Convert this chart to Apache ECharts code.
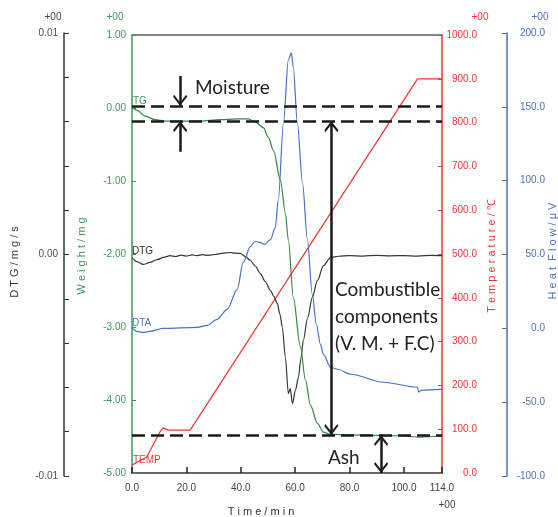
<!DOCTYPE html>
<html><head><meta charset="utf-8">
<script src="https://cdn.jsdelivr.net/npm/echarts@6/dist/echarts.min.js"></script>
<style>html,body{margin:0;padding:0;background:#fff}#c{width:558px;height:517px}</style>
</head><body><div id="c"></div>
<script>
// ---- data ----
const tgTime   = [0,1.8,4.8,8.5,12.2,25,32.4,38.7,42.8,45.3,48.3,50.1,52,54.6,56.4,57.5,59.3,61.9,63.8,65.6,68.2,70.4,73,84,98.8,106,114];
const tgWeight = [0.01,-0.03,-0.11,-0.16,-0.18,-0.18,-0.16,-0.15,-0.15,-0.19,-0.27,-0.40,-0.58,-0.99,-1.44,-1.81,-2.59,-3.27,-3.73,-4.07,-4.32,-4.44,-4.47,-4.48,-4.49,-4.51,-4.49];

const tempTime  = [0,5.5,10.3,11.4,13.3,21.4,105,114];
const tempValue = [18,37,94,103,98,98,900,900];

const dtgTime  = [0,1.8,4.1,6.6,9.2,12,14,16,18,20,22,24,26,28,30.6,33,36.1,38,39.8,41.7,43.5,45.3,47.2,49,50.9,52.2,53.4,54.4,55.3,56.4,57.5,58.2,59,60.1,61.2,62.1,63,64.6,66.3,68.2,70.4,73,76,80,85,90,95,100,105,110,114];
const dtgValueE3 = [-0.14,-0.32,-0.45,-0.36,-0.23,-0.12,-0.05,-0.09,-0.03,-0.07,-0.02,-0.05,-0.01,-0.04,0.0,0.05,0.09,0.06,0.05,-0.09,-0.27,-0.52,-0.86,-1.22,-1.63,-1.9,-2.21,-2.7,-3.30,-4.65,-6.28,-6.05,-6.73,-6.14,-5.55,-4.7,-3.88,-2.85,-1.94,-1.17,-0.50,-0.14,-0.08,-0.05,-0.07,-0.04,-0.06,-0.05,-0.07,-0.04,-0.05];

const dtaTime  = [0,1.8,4.1,6.6,11.4,24,27.6,31.3,35,38.7,40.9,43.5,45.3,47.2,48.7,50.9,52.7,53.8,55.7,57.5,58.6,59.3,60.8,62.7,64.5,66.3,67.8,69.3,70.4,73,75.6,80.4,92.5,105,105.4,106.5,114];
const dtaValue = [0.7,-2.0,-2.7,-2.0,0,0.7,2.0,6.1,12.8,26.4,44.6,55.4,58.8,58.1,56.8,60.1,68.2,87.2,139.2,181.8,186.5,177,139.2,98.6,60.1,23,2.7,-10.8,-17.6,-26.4,-27.7,-31.1,-36.5,-39.9,-43.2,-41.9,-41.2];

const refLevels = [0.03, -0.18, -4.48];   // dashed guide lines (weight, mg)

const zip = (a,b,k) => a.map((t,i)=>[t, b[i]*(k||1)]);

const NARROW = "'Liberation Sans Narrow','Liberation Sans',sans-serif";
const GREEN='#3a9a5c', RED='#ee3535', BLUE='#4a72c0', DARK='#2e3c2e';
const chevron = 'path://M0,0 L10,8 L8.6,9.8 L0,3 L-8.6,9.8 L-10,8 Z';

const chart = echarts.init(document.getElementById('c'), null, {renderer:'canvas'});
const arrowEnd = {symbol: chevron, symbolSize:[14,11], symbolOffset:[0,5.5]};
const LBL = 10;

chart.setOption({
  animation:false,
  grid:[
    {left:132, right:116, top:35, bottom:44},
    {left:132, right:116, top:33, bottom:41}
  ],
  xAxis:[
    {gridIndex:0, type:'value', min:0, max:114, interval:20, position:'bottom',
     axisLine:{onZero:false, lineStyle:{color:'#666', width:2}},
     axisTick:{inside:true, length:6, lineStyle:{color:'#222', width:1.5}},
     axisLabel:{formatter:v=>v.toFixed(1), color:'#444', fontSize:LBL, fontFamily:NARROW, margin:10},
     splitLine:{show:false}},
    {gridIndex:0, type:'value', min:0, max:114, position:'top',
     axisLine:{onZero:false, lineStyle:{color:'#888', width:2}}, axisTick:{show:false}, axisLabel:{show:false}, splitLine:{show:false}},
    {gridIndex:1, type:'value', min:0, max:114, show:false, axisLine:{onZero:false}}
  ],
  yAxis:[
    {gridIndex:0, type:'value', min:-5, max:1, interval:1, position:'left',
     axisLine:{show:true, onZero:false, lineStyle:{color:GREEN, width:1.5}},
     axisTick:{show:true, inside:true, length:4, lineStyle:{color:GREEN}},
     axisLabel:{formatter:v=>v.toFixed(2), color:GREEN, fontSize:LBL, fontFamily:NARROW, margin:6},
     splitLine:{show:false}},
    {gridIndex:0, type:'value', min:0, max:1000, interval:100, position:'right',
     axisLine:{show:true, onZero:false, lineStyle:{color:RED, width:1.5}},
     axisTick:{show:true, inside:true, length:4, lineStyle:{color:RED}},
     axisLabel:{formatter:v=>v.toFixed(1), color:RED, fontSize:LBL, fontFamily:NARROW, margin:35, align:'right'},
     splitLine:{show:false}},
    {gridIndex:1, type:'value', min:-0.01, max:0.01, interval:0.002, position:'left', offset:68,
     axisLine:{show:true, onZero:false, lineStyle:{color:DARK, width:1.5}},
     axisTick:{show:true, inside:true, length:5, lineStyle:{color:DARK}},
     axisLabel:{formatter:v=>{const r=Math.round(v*1000); return (r===10||r===0||r===-10)?(r===0?'0.00':(r/1000).toFixed(2)):'';},
       color:'#4a554a', fontSize:LBL, fontFamily:NARROW, margin:6},
     splitLine:{show:false}},
    {gridIndex:1, type:'value', min:-100, max:200, interval:50, position:'right', offset:65,
     axisLine:{show:true, onZero:false, lineStyle:{color:BLUE, width:1.5}},
     axisTick:{show:true, inside:true, length:5, lineStyle:{color:BLUE}},
     axisLabel:{formatter:v=>v.toFixed(1), color:BLUE, fontSize:LBL, fontFamily:NARROW, margin:38, align:'right'},
     splitLine:{show:false}}
  ],
  series:[
    {name:'TEMP', type:'line', xAxisIndex:0, yAxisIndex:1, data:zip(tempTime,tempValue), showSymbol:false,
     lineStyle:{color:RED, width:1.2}},
    {name:'DTG', type:'line', xAxisIndex:2, yAxisIndex:2, data:zip(dtgTime,dtgValueE3,0.001), showSymbol:false,
     smooth:0.3, smoothMonotone:'x', lineStyle:{color:DARK, width:1.2}},
    {name:'DTA', type:'line', xAxisIndex:2, yAxisIndex:3, data:zip(dtaTime,dtaValue), showSymbol:false,
     smooth:0.3, smoothMonotone:'x', lineStyle:{color:BLUE, width:1.2}},
    {name:'TG', type:'line', xAxisIndex:0, yAxisIndex:0, data:zip(tgTime,tgWeight), showSymbol:false,
     smooth:0.3, smoothMonotone:'x', lineStyle:{color:'#2e8b45', width:1.2},
     markLine:{silent:true, animation:false, symbol:'none', label:{show:false},
       lineStyle:{color:'#1a1a1a', width:2.5, type:'solid'},
       data:[
         ...refLevels.map(v=>({yAxis:v, lineStyle:{type:[13,6], width:2.5, color:'#1a1a1a'}})),
         [{coord:[17.7,0.44], symbol:'none'}, Object.assign({coord:[17.7,refLevels[0]]}, arrowEnd)],
         [{coord:[17.7,-0.60], symbol:'none'}, Object.assign({coord:[17.7,refLevels[1]]}, arrowEnd)],
         [Object.assign({coord:[73.3,refLevels[1]]}, arrowEnd), Object.assign({coord:[73.3,refLevels[2]]}, arrowEnd)],
         [Object.assign({coord:[91.6,refLevels[2]]}, arrowEnd), Object.assign({coord:[91.6,-5.0]}, arrowEnd)]
       ]}}
  ],
  graphic:[
    {type:'text', x:53, y:17, style:{text:'+00', fill:'#444', font:'10px '+NARROW, align:'center', verticalAlign:'middle'}},
    {type:'text', x:115, y:17, style:{text:'+00', fill:GREEN, font:'10px '+NARROW, align:'center', verticalAlign:'middle'}},
    {type:'text', x:480, y:17, style:{text:'+00', fill:RED, font:'10px '+NARROW, align:'center', verticalAlign:'middle'}},
    {type:'text', x:540, y:17, style:{text:'+00', fill:BLUE, font:'10px '+NARROW, align:'center', verticalAlign:'middle'}},
    {type:'text', x:447, y:505, style:{text:'+00', fill:'#444', font:'10px '+NARROW, align:'center', verticalAlign:'middle'}},
    {type:'text', x:15, y:262, rotation:Math.PI/2, style:{text:'D T G / m g / s', fill:'#333', font:'11px '+NARROW, align:'center', verticalAlign:'middle'}},
    {type:'text', x:82, y:256, rotation:Math.PI/2, style:{text:'W e i g h t / m g', fill:GREEN, font:'11px '+NARROW, align:'center', verticalAlign:'middle'}},
    {type:'text', x:492, y:256, rotation:Math.PI/2, style:{text:'T e m p e r a t u r e / ℃', fill:RED, font:'11px '+NARROW, align:'center', verticalAlign:'middle'}},
    {type:'text', x:553, y:251, rotation:Math.PI/2, style:{text:'H e a t  F l o w / μ V', fill:BLUE, font:'11px '+NARROW, align:'center', verticalAlign:'middle'}},
    {type:'text', x:261, y:512, style:{text:'T i m e / m i n', fill:'#333', font:'11px '+NARROW, align:'center', verticalAlign:'middle'}},
    {type:'text', x:133, y:101, style:{text:'TG', fill:GREEN, font:'10px '+NARROW, align:'left', verticalAlign:'middle'}},
    {type:'text', x:132, y:251, style:{text:'DTG', fill:'#333', font:'10px '+NARROW, align:'left', verticalAlign:'middle'}},
    {type:'text', x:132, y:323, style:{text:'DTA', fill:BLUE, font:'10px '+NARROW, align:'left', verticalAlign:'middle'}},
    {type:'text', x:133, y:460, style:{text:'TEMP', fill:RED, font:'10px '+NARROW, align:'left', verticalAlign:'middle'}},
    {type:'text', x:195, y:88, style:{text:'Moisture', fill:'#222', font:'19px Lato', align:'left', verticalAlign:'middle'}},
    {type:'text', x:335, y:290, style:{text:'Combustible', fill:'#222', font:'19px Lato', align:'left', verticalAlign:'middle'}},
    {type:'text', x:335, y:317, style:{text:'components', fill:'#222', font:'19px Lato', align:'left', verticalAlign:'middle'}},
    {type:'text', x:335, y:344, style:{text:'(V. M. + F.C)', fill:'#222', font:'19px Lato', align:'left', verticalAlign:'middle'}},
    {type:'text', x:328, y:458, style:{text:'Ash', fill:'#222', font:'19px Lato', align:'left', verticalAlign:'middle'}}
  ]
});
</script></body></html>
